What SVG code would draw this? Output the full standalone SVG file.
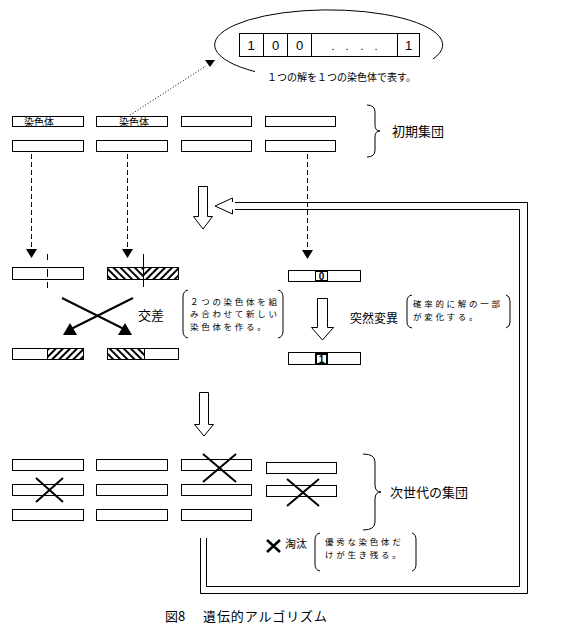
<svg xmlns="http://www.w3.org/2000/svg" width="571" height="633" viewBox="0 0 571 633">
<defs>
<style>
.ch{fill:#fff;stroke:#000;stroke-width:1}
.ln{fill:none;stroke:#000;stroke-width:1}
.jp{font-family:"Noto Sans CJK JP","Noto Sans",sans-serif;fill:#000}
.note{font-family:"Noto Sans CJK JP","Noto Sans",sans-serif;fill:#000;font-size:8.5px;letter-spacing:2.7px}
.num{font-family:"Liberation Sans",sans-serif;fill:#000}
.dash{fill:none;stroke:#000;stroke-width:1;stroke-dasharray:5,3}
.x{stroke:#000;stroke-width:2;fill:none}
.tri{fill:#000;stroke:none}
.hol{fill:#fff;stroke:#000;stroke-width:1}
</style>
<pattern id="hb" patternUnits="userSpaceOnUse" width="5" height="5" patternTransform="rotate(-45)">
<rect x="0" y="0" width="2" height="5" fill="#000"/>
</pattern>
<pattern id="hf" patternUnits="userSpaceOnUse" width="5" height="5" patternTransform="rotate(45)">
<rect x="0" y="0" width="2" height="5" fill="#000"/>
</pattern>
</defs>
<rect width="571" height="633" fill="#fff"/>

<g id="encoding">
<path class="ln" d="M255,71.6 A114,35 0 1 1 433,59"/>
<rect class="ln" x="239.5" y="33.5" width="180" height="23"/>
<line class="ln" x1="263.5" y1="33.5" x2="263.5" y2="56.5"/>
<line class="ln" x1="287.5" y1="33.5" x2="287.5" y2="56.5"/>
<line class="ln" x1="311.5" y1="33.5" x2="311.5" y2="56.5"/>
<line class="ln" x1="397.5" y1="33.5" x2="397.5" y2="56.5"/>
<text class="num" font-size="13" text-anchor="middle" x="251" y="50">1</text>
<text class="num" font-size="13" text-anchor="middle" x="275.5" y="50">0</text>
<text class="num" font-size="13" text-anchor="middle" x="299.5" y="50">0</text>
<text class="num" font-size="11" text-anchor="middle" x="333 347 362 376" y="50">....</text>
<text class="num" font-size="13" text-anchor="middle" x="408.5" y="50">1</text>
<text class="jp" font-size="10" x="267" y="81">１つの解を１つの染色体で表す。</text>
<polygon class="tri" points="205,60 215,60 210,67"/>
</g>

<g id="initial-population">
<rect class="ch" x="12.5" y="116.5" width="71" height="10"/>
<rect class="ch" x="96.5" y="116.5" width="71" height="10"/>
<rect class="ch" x="181.5" y="116.5" width="70" height="10"/>
<rect class="ch" x="265.5" y="116.5" width="70" height="10"/>
<text class="jp" font-size="10" x="24" y="126">染色体</text>
<text class="jp" font-size="10" x="119" y="126">染色体</text>
<rect class="ch" x="12.5" y="140.5" width="71" height="11"/>
<rect class="ch" x="96.5" y="140.5" width="71" height="11"/>
<rect class="ch" x="181.5" y="140.5" width="70" height="11"/>
<rect class="ch" x="265.5" y="140.5" width="70" height="11"/>
<path class="ln" d="M367,105 Q375,105 375,112 V125 Q375,131 380,131 Q375,131 375,137 V150 Q375,157 367,157"/>
<text class="jp" font-size="13" x="392" y="136">初期集団</text>
</g>

<g id="crossover">
<rect class="ch" x="12.5" y="267.5" width="71" height="12"/>
<line class="ln" x1="47.5" y1="254" x2="47.5" y2="260"/>
<line class="ln" x1="47.5" y1="269" x2="47.5" y2="277"/>
<line class="ln" x1="47.5" y1="282" x2="47.5" y2="288"/>
<rect x="108" y="268" width="35.5" height="12" fill="url(#hb)"/>
<rect x="143.5" y="268" width="35" height="12" fill="url(#hf)"/>
<rect x="107.5" y="267.5" width="71" height="12" fill="none" stroke="#000"/>
<line class="ln" x1="143.5" y1="254" x2="143.5" y2="287"/>
<line class="x" x1="62" y1="298" x2="124" y2="329" stroke-width="1.5"/>
<line class="x" x1="133" y1="298" x2="71" y2="329" stroke-width="1.5"/>
<polygon class="tri" points="70,323 63,335 77,335"/>
<polygon class="tri" points="125,323 118,335 132,335"/>
<text class="jp" font-size="13" x="138" y="320">交差</text>
<path class="ln" d="M188,290 Q183,291 183,297 V331 Q183,337 188,338"/>
<path class="ln" d="M278,290 Q283,291 283,297 V331 Q283,337 278,338"/>
<text class="note" x="190" y="304.5">２つの染色体を組</text>
<text class="note" x="190" y="317">み合わせて新しい</text>
<text class="note" x="190" y="329.5">染色体を作る。</text>
<rect x="47.5" y="349" width="36" height="11" fill="url(#hf)"/>
<rect x="12.5" y="348.5" width="71" height="11" fill="none" stroke="#000"/>
<line class="ln" x1="47.5" y1="348.5" x2="47.5" y2="359.5"/>
<rect x="108" y="349" width="36" height="11" fill="url(#hb)"/>
<rect x="107.5" y="348.5" width="71" height="11" fill="none" stroke="#000"/>
<line class="ln" x1="144.5" y1="348.5" x2="144.5" y2="359.5"/>
</g>

<g id="mutation">
<rect class="ch" x="288.5" y="270.5" width="72" height="11"/>
<rect class="ch" x="315.5" y="271.5" width="12" height="9"/>
<text class="num" font-size="10" font-weight="bold" text-anchor="middle" x="321.5" y="280">0</text>
<polygon class="hol" points="317.5,298.5 327.5,298.5 327.5,327.5 333.5,327.5 322.5,340 311.5,327.5 317.5,327.5"/>
<text class="jp" font-size="12" x="350" y="323">突然変異</text>
<path class="ln" d="M412,295 Q407,296 407,301 V322 Q407,327 412,328"/>
<path class="ln" d="M506,295 Q510,296 510,301 V322 Q510,327 506,328"/>
<text class="note" x="413" y="307">確率的に解の一部</text>
<text class="note" x="413" y="319.5">が変化する。</text>
<rect class="ch" x="288.5" y="352.5" width="72" height="12"/>
<rect x="316" y="354" width="11" height="10" fill="#fff" stroke="#000" stroke-width="2"/>
<text class="num" font-size="10" font-weight="bold" text-anchor="middle" x="321.5" y="363">1</text>
</g>

<g id="next-generation">
<rect class="ch" x="12.5" y="459.5" width="71" height="11"/>
<rect class="ch" x="12.5" y="484.5" width="71" height="11"/>
<rect class="ch" x="12.5" y="509.5" width="71" height="11"/>
<rect class="ch" x="96.5" y="459.5" width="71" height="11"/>
<rect class="ch" x="96.5" y="484.5" width="71" height="11"/>
<rect class="ch" x="96.5" y="509.5" width="71" height="11"/>
<rect class="ch" x="181.5" y="459.5" width="70" height="11"/>
<rect class="ch" x="181.5" y="484.5" width="70" height="11"/>
<rect class="ch" x="181.5" y="509.5" width="70" height="11"/>
<rect class="ch" x="266.5" y="462.5" width="70" height="11"/>
<rect class="ch" x="266.5" y="485.5" width="70" height="11"/>
<path class="x" d="M36,478 L63,502 M36,502 L63,478"/>
<path class="x" d="M203,454 L236,482 M203,482 L236,454"/>
<path class="x" d="M287,479 L319,506 M287,506 L319,479"/>
<path class="ln" d="M363,454 Q375,454 375,462 V485 Q375,492 381,492 Q375,492 375,499 V522 Q375,530 363,530"/>
<text class="jp" font-size="13" x="390" y="497">次世代の集団</text>
</g>

<g id="selection">
<path d="M267,540 L280,552 M280,540 L267,552" stroke="#000" stroke-width="2.5" fill="none"/>
<text class="jp" font-size="11" x="285" y="548">淘汰</text>
<path class="ln" d="M320,533 Q315,534 315,540 V564 Q315,570 320,571"/>
<path class="ln" d="M412,533 Q416,534 416,540 V564 Q416,570 412,571"/>
<text class="note" x="325" y="545">優秀な染色体だ</text>
<text class="note" x="325" y="557.5">けが生き残る。</text>
</g>

<g id="connectors">
<line class="ln" x1="130" y1="115" x2="206" y2="66" stroke-dasharray="1,2"/>
<line class="dash" x1="31.5" y1="154" x2="31.5" y2="250"/>
<polygon class="tri" points="26,249 37,249 31.5,258"/>
<line class="dash" x1="127.5" y1="154" x2="127.5" y2="250"/>
<polygon class="tri" points="122,249 133,249 127.5,258"/>
<line class="dash" x1="307.5" y1="154" x2="307.5" y2="251"/>
<polygon class="tri" points="302,250 313,250 307.5,259"/>
<polygon class="hol" points="198.5,186.5 207.5,186.5 207.5,216.5 212.5,216.5 203,229 193.5,216.5 198.5,216.5"/>
<polygon class="hol" points="199.5,392.5 208.5,392.5 208.5,424.5 213.5,424.5 204,436 194.5,424.5 199.5,424.5"/>
<path class="ln" d="M232.5,202 V198 L215,206 L232.5,214 V209.5"/>
<path class="ln" d="M235,202.5 H527.5 V593.5 H200.5 V538"/>
<path class="ln" d="M235,209.5 H519.5 V586.5 H206.5 V538"/>
</g>

<g id="caption">
<text class="jp" font-size="13" x="165" y="621">図8</text>
<text class="jp" font-size="13" x="203" y="621" textLength="124">遺伝的アルゴリズム</text>
</g>
</svg>
